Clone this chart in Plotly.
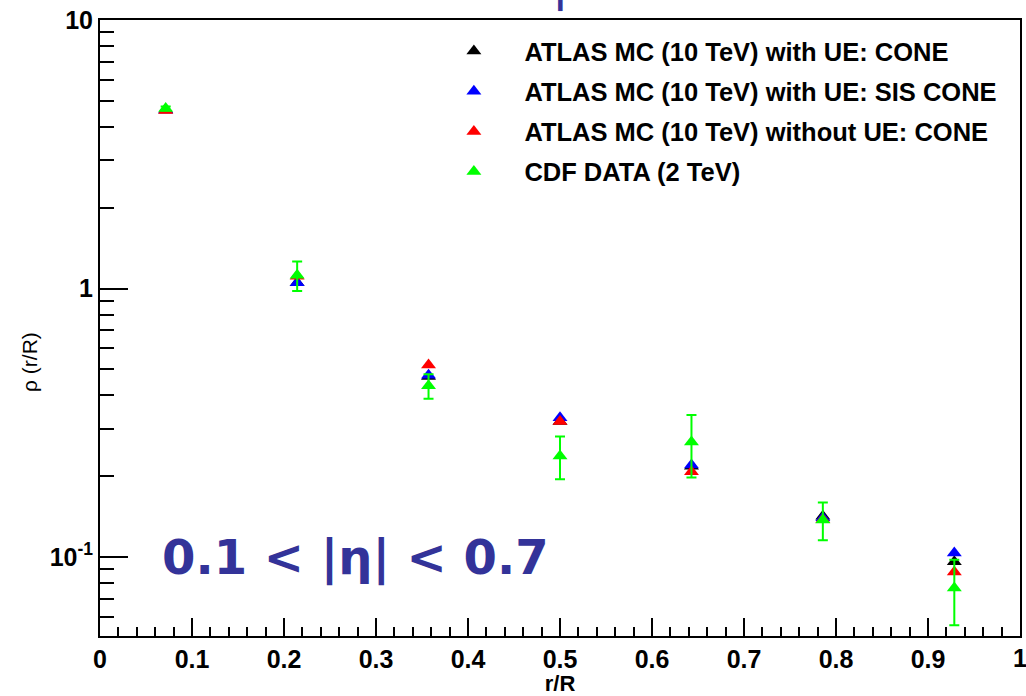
import plotly.graph_objects as go

# ---------------- data ----------------
r_over_R = [0.0714, 0.2143, 0.3571, 0.5, 0.6429, 0.7857, 0.9286]
atlas_ue_cone = [4.62, 1.05, 0.47, 0.32, 0.218, 0.142, 0.096]
atlas_ue_siscone = [4.62, 1.05, 0.475, 0.33, 0.22, 0.140, 0.1035]
atlas_noue_cone = [4.60, 1.11, 0.519, 0.32, 0.208, 0.138, 0.088]
cdf_data = [4.68, 1.12, 0.434, 0.238, 0.268, 0.1375, 0.0767]
cdf_err = [0.08, 0.14, 0.045, 0.043, 0.07, 0.022, 0.021]

series_names = [
    "ATLAS MC (10 TeV) with UE: CONE",
    "ATLAS MC (10 TeV) with UE: SIS CONE",
    "ATLAS MC (10 TeV) without UE: CONE",
    "CDF DATA (2 TeV)",
]
series_colors = ["#000000", "#0000ff", "#ff0000", "#00ff00"]

x_tickvals = [0, 0.1, 0.2, 0.3, 0.4, 0.5, 0.6, 0.7, 0.8, 0.9, 1.0]
x_ticktext = ["0", "0.1", "0.2", "0.3", "0.4", "0.5", "0.6", "0.7", "0.8", "0.9", "1"]
y_tickvals = [0.1, 1, 10]
y_ticktext = ["10<sup>-1</sup>", "1", "10"]
y_minor_vals = [0.06, 0.07, 0.08, 0.09, 0.2, 0.3, 0.4, 0.5, 0.6, 0.7, 0.8, 0.9,
                2, 3, 4, 5, 6, 7, 8, 9]

# ---------------- figure ----------------
fig = go.Figure()
all_y = [atlas_ue_cone, atlas_ue_siscone, atlas_noue_cone, cdf_data]
for i, (name, col, ys) in enumerate(zip(series_names, series_colors, all_y)):
    kw = {}
    if i == 3:
        kw["error_y"] = dict(type="data", array=cdf_err, color=col,
                             thickness=2, width=5)
    fig.add_trace(go.Scatter(
        x=r_over_R, y=ys, mode="markers", name=name, legendgroup=f"g{i}",
        marker=dict(symbol="triangle-up", size=13, color=col), **kw))

FAM = "Liberation Sans, Arial"
AX_FONT = dict(family=FAM, size=25, color="black", weight="bold")

fig.update_layout(
    width=1026, height=696,
    margin=dict(l=100, r=4, t=20, b=60),
    paper_bgcolor="white", plot_bgcolor="white",
    showlegend=True,
    legend=dict(x=0.3515, y=0.987, xanchor="left", yanchor="top",
                bgcolor="rgba(0,0,0,0)", tracegroupgap=4,
                itemwidth=91,
                font=dict(family=FAM, size=25.5, color="black", weight="bold")),
    xaxis=dict(range=[0, 1], tickvals=x_tickvals, ticktext=x_ticktext,
               ticks="inside", ticklen=18, tickwidth=2, tickcolor="black",
               showline=True, linecolor="black", linewidth=2, mirror=True,
               showgrid=False, zeroline=False, tickfont=AX_FONT,
               minor=dict(dtick=0.02, ticks="inside", ticklen=9, tickwidth=2,
                          tickcolor="black", showgrid=False),
               title=dict(text="r/R", font=dict(family=FAM, size=22, color="black",
                                                weight="bold"),
                          standoff=2)),
    yaxis=dict(type="log", range=[-1.294, 1], tickvals=y_tickvals, ticktext=y_ticktext,
               ticks="inside", ticklen=28, tickwidth=2, tickcolor="black",
               showline=True, linecolor="black", linewidth=2, mirror=True,
               showgrid=False, zeroline=False, tickfont=AX_FONT,
               minor=dict(tickvals=y_minor_vals, ticks="inside", ticklen=14, tickwidth=2,
                          tickcolor="black", showgrid=False)),
)

# y-axis title (placed like the reference, below the axis centre)
fig.add_annotation(x=-0.076, y=0.445, xref="paper", yref="paper", xanchor="center",
                   yanchor="middle", textangle=-90, text="\u03c1 (r/R)", showarrow=False,
                   font=dict(family=FAM, size=21, color="black"))

# right-most x tick label, partly cut off at the page edge
fig.add_annotation(x=1, y=0, xref="paper", yref="paper", xanchor="center", yanchor="top",
                   yshift=-6, text="1", showarrow=False, font=AX_FONT)

fig.add_annotation(x=0.065, y=-1.0, xref="x", yref="y", xanchor="left", yanchor="middle",
                   text="0.1 < |\u03b7| < 0.7", showarrow=False,
                   font=dict(family="DejaVu Sans", size=48, color="#333399", weight="bold"))

# cut-off title above the frame (only its lower part shows)
fig.add_annotation(x=0.5, y=1, xref="paper", yref="paper", xanchor="center", yanchor="bottom",
                   yshift=6, text="|", showarrow=False,
                   font=dict(family="DejaVu Sans", size=40, color="#333399", weight="bold"))

fig.write_html("out.html")
